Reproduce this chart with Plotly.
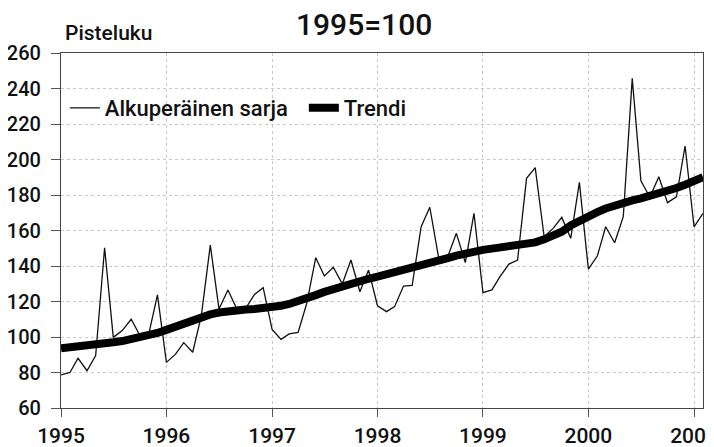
import pandas as pd
import plotly.graph_objects as go

months = pd.date_range("1995-01-01", periods=74, freq="MS")

original = [78.6, 80, 88, 81, 89.5, 150.3, 99.8, 103.6, 110, 101, 101.7, 123.7,
            85.7, 90.2, 96.8, 91.4, 112, 151.8, 115.8, 126.5, 115.8, 116, 124, 127.8,
            104.3, 98.7, 101.7, 102.6, 119, 144.7, 134.4, 139.3, 129.9, 143.4, 125.5, 137.7,
            117.6, 114.3, 117.1, 128.7, 129.1, 162.1, 173.1, 144.3, 145.2, 158.4, 141.9, 169.7,
            125, 126.5, 134, 141.1, 143.4, 189.4, 195.4, 156.5, 161.2, 167.4, 155.6, 187.1,
            138.3, 145.6, 162.1, 153.1, 167.8, 245.7, 188, 178.7, 190.3, 175.7, 179, 207.6,
            162.1, 169.7]

trend = [93.6, 94, 94.5, 95.1, 95.7, 96.3, 97, 97.7, 98.6, 99.6, 100.8, 102.3,
         104, 105.9, 107.7, 109.6, 111.3, 112.7, 113.8, 114.6, 115.1, 115.5, 115.8, 116.2,
         116.8, 117.6, 118.6, 120, 121.8, 123.6, 125.4, 127.1, 128.7, 130.2, 131.6, 132.8,
         134, 135.2, 136.4, 137.6, 138.8, 140, 141.4, 142.8, 144.4, 145.8, 147.1, 148.2,
         149.1, 149.8, 150.4, 150.9, 151.4, 152.2, 153.3, 155, 157.1, 159.3, 162.8, 165.5,
         168, 170.3, 172.4, 174.2, 175.7, 177, 178.1, 179.3, 180.7, 182.2, 183.9, 185.8,
         187.8, 190]

year_ticks = ["1995", "1996", "1997", "1998", "1999", "2000", "2001"]
y_ticks = [60, 80, 100, 120, 140, 160, 180, 200, 220, 240, 260]

FONT = "Roboto, Liberation Sans, sans-serif"
W = 500
PAGE_OFFSET = 8  # default body margin of the html page

fig = go.Figure()
fig.add_trace(go.Scatter(x=months, y=original, mode="lines", name="Alkuperäinen sarja",
                         line=dict(color="#111111", width=1.3)))
fig.add_trace(go.Scatter(x=months, y=trend, mode="lines", name="Trendi",
                         line=dict(color="#000000", width=8)))

fig.update_layout(
    width=714 - PAGE_OFFSET, height=447 - PAGE_OFFSET,
    margin=dict(l=61 - PAGE_OFFSET, r=11, t=53 - PAGE_OFFSET, b=39),
    paper_bgcolor="white", plot_bgcolor="white",
    font=dict(family=FONT, color="#111111", size=20, weight=W),
    showlegend=True,
    legend=dict(orientation="h", x=0.006, y=0.845, xanchor="left", yanchor="middle",
                bgcolor="rgba(0,0,0,0)", font=dict(size=22, weight=W),
                entrywidth=194, entrywidthmode="pixels",
                traceorder="normal"),
    annotations=[
        dict(text="1995=100", x=0.472, y=1.079, xref="paper", yref="paper",
             xanchor="center", yanchor="middle", showarrow=False,
             font=dict(size=30, weight=W)),
        dict(text="Pisteluku", x=0.003, y=1.056, xref="paper", yref="paper",
             xanchor="left", yanchor="middle", showarrow=False,
             font=dict(size=21, weight=W)),
    ],
)

fig.update_xaxes(
    type="date",
    range=[months[0], months[-1]],
    tickvals=[pd.Timestamp(y + "-01-01") for y in year_ticks],
    ticktext=year_ticks,
    ticks="outside", ticklen=8, tickcolor="#555555",
    showline=True, linecolor="#444444", linewidth=1.2, mirror=True,
    showgrid=True, gridcolor="#c8c8c8", griddash="dot", gridwidth=1,
    tickfont=dict(size=21, weight=W),
    ticklabelstandoff=1,
    ticklabeloverflow="allow",
    automargin=False,
)
fig.update_yaxes(
    range=[60, 260],
    tickvals=y_ticks,
    ticks="outside", ticklen=9, tickcolor="#555555",
    showline=True, linecolor="#444444", linewidth=1.2, mirror=True,
    showgrid=True, gridcolor="#c8c8c8", griddash="dot", gridwidth=1,
    tickfont=dict(size=20, weight=W),
    ticklabelstandoff=6,
    zeroline=False,
    automargin=False,
)

fig.write_html("out.html")
